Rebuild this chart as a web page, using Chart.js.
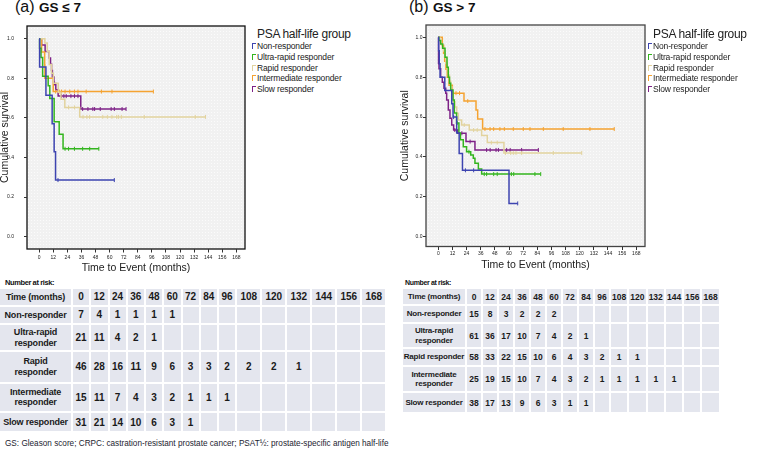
<!DOCTYPE html>
<html>
<head>
<meta charset="utf-8">
<script src="https://cdn.jsdelivr.net/npm/chart.js@4.4.1/dist/chart.umd.min.js"></script>
<style>
body{margin:0;background:#fff;font-family:"Liberation Sans",Arial,sans-serif;}
#wrap{position:relative;width:777px;height:450px;overflow:hidden;}
.cv{position:absolute;top:0;}
.ptitle{position:absolute;top:-1px;white-space:nowrap;color:#111;line-height:16px;}
.ptitle .p{font-size:16px;}
.ptitle .g{font-size:13.5px;font-weight:bold;}
.leg{position:absolute;top:27px;white-space:nowrap;color:#222;}
.leg .t{font-size:12px;letter-spacing:-0.3px;line-height:14px;padding-left:6px;}
.leg .e{font-size:8.5px;letter-spacing:-0.15px;height:10.8px;line-height:10.8px;position:relative;padding-left:6px;}
.leg .m{position:absolute;left:1px;top:2px;width:3px;height:5px;border-top:1px solid;border-left:1px solid;}
.nar{position:absolute;font-weight:bold;color:#111;white-space:nowrap;}
table.risk{position:absolute;border-collapse:separate;table-layout:fixed;}
table.risk td{background:#e4e6ee;text-align:center;font-weight:bold;color:#1a1a1a;padding:0;overflow:hidden;white-space:nowrap;}
#foot{position:absolute;left:5px;top:439px;font-size:8.2px;line-height:9px;color:#1c1c30;white-space:nowrap;}
</style>
</head>
<body>
<div id="wrap">
  <div class="ptitle" style="left:15px"><span class="p">(a)</span> <span class="g">GS ≤ 7</span></div>
  <div class="ptitle" style="left:409px"><span class="p">(b)</span> <span class="g">GS &gt; 7</span></div>
  <canvas id="ca" class="cv" style="left:0px" width="250" height="278"></canvas>
  <canvas id="cb" class="cv" style="left:400px" width="250" height="278"></canvas>
  <div id="legA" class="leg" style="left:251px"></div>
  <div id="legB" class="leg" style="left:647px"></div>
  <div class="nar" style="left:5px;top:278px;font-size:7.5px;letter-spacing:-0.4px;line-height:10px">Number at risk:</div>
  <div class="nar" style="left:405px;top:278px;font-size:7px;letter-spacing:-0.35px;line-height:10px">Number at risk:</div>
  <div id="foot">GS: Gleason score; CRPC: castration-resistant prostate cancer; PSAT½: prostate-specific antigen half-life</div>
</div>
<script>
const months = [0, 12, 24, 36, 48, 60, 72, 84, 96, 108, 120, 132, 144, 156, 168];
const yTicks = [0, 0.2, 0.4, 0.6, 0.8, 1.0];
const groups = ['Non-responder', 'Ultra-rapid responder', 'Rapid responder', 'Intermediate responder', 'Slow responder'];

// (a) GS <= 7 : event times, survival after each step, censor times
const aNonT = [0, 0.3, 5.7, 11, 12.7, 13.9, 64];
const aNonS = [1, 0.857, 0.714, 0.571, 0.429, 0.286, 0.286];
const aNonC = [16, 64];
const aUltT = [0, 0.3, 1.5, 2.9, 7.6, 9, 12.7, 17, 20.3, 50.8];
const aUltS = [1, 0.952, 0.905, 0.81, 0.762, 0.698, 0.58, 0.517, 0.444, 0.444];
const aUltC = [22, 25, 30, 37, 43, 50.8];
const aRapT = [0, 4.8, 6.8, 8.5, 10.5, 12, 16.2, 18.5, 21.8, 34.5, 141.7];
const aRapS = [1, 0.978, 0.935, 0.87, 0.826, 0.775, 0.73, 0.694, 0.653, 0.605, 0.605];
const aRapC = [25, 30, 37.3, 40.6, 42.9, 54.2, 58, 62, 66, 67.5, 70, 89.5, 133, 141.7];
const aIntT = [0, 2, 4.6, 4.8, 11.9, 97.3];
const aIntS = [1, 0.933, 0.867, 0.8, 0.733, 0.733];
const aIntC = [14, 17, 19, 22, 26, 30, 33, 40, 53, 62, 97.3];
const aSloT = [0, 2, 5, 8.5, 9.6, 10.5, 11.2, 12.5, 14.1, 16.1, 35.4, 74];
const aSloS = [1, 0.968, 0.935, 0.903, 0.871, 0.839, 0.806, 0.774, 0.742, 0.71, 0.645, 0.645];
const aSloC = [13, 19, 21, 23, 27, 30, 33, 37, 41.5, 45.7, 47.2, 52, 61.3, 64, 70.6, 74];

// (b) GS > 7
const bNonT = [0, 0.3, 0.8, 1.5, 5.5, 11.4, 12.5, 15.6, 17.7, 20.5, 60, 67.4];
const bNonS = [1, 0.933, 0.867, 0.8, 0.733, 0.667, 0.6, 0.52, 0.417, 0.333, 0.167, 0.167];
const bNonC = [13, 23, 30, 67.4];
const bUltT = [0, 0.5, 2, 3.7, 5.7, 7.4, 8.5, 9.5, 10.5, 12.5, 13.6, 15.5, 17.5, 18.8, 21.2, 24, 27.5, 29.7, 31.1, 34, 36.8, 86.9];
const bUltS = [1, 0.984, 0.967, 0.945, 0.9, 0.85, 0.8, 0.77, 0.736, 0.686, 0.62, 0.57, 0.52, 0.486, 0.451, 0.426, 0.41, 0.393, 0.368, 0.339, 0.314, 0.314];
const bUltC = [16, 26, 39, 41, 47, 50, 62, 64, 82, 86.9];
const bRapT = [0, 1.4, 2.5, 3.5, 4.5, 5.5, 6.5, 7.6, 8.5, 9.5, 10.5, 11.5, 12.7, 14, 15.6, 17, 19.8, 26.3, 36.8, 41.6, 55.7, 121.7];
const bRapS = [1, 0.983, 0.966, 0.948, 0.931, 0.9, 0.87, 0.84, 0.81, 0.78, 0.752, 0.715, 0.677, 0.65, 0.619, 0.585, 0.56, 0.535, 0.507, 0.472, 0.42, 0.42];
const bRapC = [22, 30, 33, 45, 50, 57, 61.4, 63.6, 65.9, 70.7, 97.6, 121.7];
const bIntT = [0, 3.4, 4.5, 5.4, 6.5, 7.6, 9.1, 11.9, 21.8, 32, 33.4, 37.6, 149.3];
const bIntS = [1, 0.96, 0.92, 0.88, 0.84, 0.8, 0.76, 0.72, 0.68, 0.635, 0.59, 0.54, 0.54];
const bIntC = [15, 18, 25, 39.6, 43.9, 47, 52.3, 56, 63.6, 72.1, 77.8, 89.1, 106, 128.7, 149.3];
const bSloT = [0, 0.2, 0.6, 2, 3.4, 4.8, 6.3, 7.1, 8.5, 9.9, 11.4, 13, 16.5, 23.5, 31.1, 84.9];
const bSloS = [1, 0.868, 0.842, 0.8, 0.774, 0.744, 0.719, 0.686, 0.635, 0.594, 0.56, 0.535, 0.519, 0.477, 0.435, 0.435];
const bSloC = [14, 20, 27, 41, 44, 49, 51, 58, 61, 70.7, 84.9];

// number at risk
const riskA = [
  [7, 4, 1, 1, 1, 1],
  [21, 11, 4, 2, 1],
  [46, 28, 16, 11, 9, 6, 3, 3, 2, 2, 2, 1],
  [15, 11, 7, 4, 3, 2, 1, 1, 1],
  [31, 21, 14, 10, 6, 3, 1]
];
const riskB = [
  [15, 8, 3, 2, 2, 2],
  [61, 36, 17, 10, 7, 4, 2, 1],
  [58, 33, 22, 15, 10, 6, 4, 3, 2, 1, 1],
  [25, 19, 15, 10, 7, 4, 3, 2, 1, 1, 1, 1, 1],
  [38, 17, 13, 9, 6, 3, 1, 1]
];

const colors = ['#3d44b0', '#33b51e', '#e2d39e', '#f5a331', '#7d2187'];

Chart.defaults.font.family = '"Liberation Sans", Arial, sans-serif';

function stepAt(T, S, t) {
  let y = S[0];
  for (let i = 0; i < T.length; i++) if (T[i] <= t) y = S[i];
  return y;
}

function buildDatasets(curves) {
  const ds = [];
  curves.forEach((c, i) => {
    ds.push({
      data: c[0].map((t, k) => ({x: t, y: c[1][k]})),
      stepped: 'before',
      borderColor: colors[i],
      borderWidth: 1.5,
      pointRadius: 0,
      fill: false
    });
    ds.push({
      data: c[2].map(t => ({x: t, y: stepAt(c[0], c[1], t)})),
      showLine: false,
      pointStyle: 'line',
      rotation: 90,
      pointRadius: 2,
      pointBorderWidth: 1,
      borderColor: colors[i],
      pointBorderColor: colors[i]
    });
  });
  return ds;
}

function dotPattern(ctx) {
  const p = document.createElement('canvas');
  p.width = 3; p.height = 3;
  const g = p.getContext('2d');
  g.fillStyle = '#f1f1f1';
  g.fillRect(0, 0, 3, 3);
  g.fillStyle = '#fbfbfb';
  g.fillRect(1, 1, 1, 1);
  return ctx.createPattern(p, 'repeat');
}

function makeChart(id, curves, o) {
  const ctx = document.getElementById(id).getContext('2d');
  const framePlugin = {
    id: 'frame',
    beforeDraw(chart) {
      const a = chart.chartArea, c = chart.ctx;
      c.save();
      c.fillStyle = dotPattern(c);
      c.fillRect(a.left, a.top, a.right - a.left, a.bottom - a.top);
      c.strokeStyle = o.frame;
      c.lineWidth = 1.3;
      c.strokeRect(a.left, a.top, a.right - a.left, a.bottom - a.top);
      c.restore();
    }
  };
  return new Chart(ctx, {
    type: 'line',
    data: {datasets: buildDatasets(curves)},
    plugins: [framePlugin],
    options: {
      responsive: false,
      animation: false,
      layout: {padding: {top: o.top, right: o.right, left: 0, bottom: 0}},
      plugins: {legend: {display: false}, tooltip: {enabled: false}},
      scales: {
        x: {
          type: 'linear', min: -10.44, max: 175.4,
          afterBuildTicks: s => { s.ticks = months.map(v => ({value: v})); },
          afterFit: s => { s.height = o.xh; },
          ticks: {font: {size: 5}, color: '#222', padding: o.xlp, maxRotation: 0, autoSkip: false},
          grid: {drawOnChartArea: false, tickLength: 3.5, color: '#333'},
          border: {display: false},
          title: {display: true, text: 'Time to Event (months)', font: {size: 10.5}, color: '#222', padding: {top: 0, bottom: o.xtp}}
        },
        y: {
          min: o.ymin, max: o.ymax,
          afterBuildTicks: s => { s.ticks = yTicks.map(v => ({value: v})); },
          afterFit: s => { s.width = o.yw; },
          ticks: {font: {size: 5}, color: '#222', padding: o.ylp, callback: v => v.toFixed(1)},
          grid: {drawOnChartArea: false, tickLength: 3, color: '#333'},
          border: {display: false},
          title: {display: true, text: 'Cumulative survival', font: {size: 10.5, lineHeight: 1}, color: '#222', padding: 0}
        }
      }
    }
  });
}

makeChart('ca', [
  [aNonT, aNonS, aNonC], [aUltT, aUltS, aUltC], [aRapT, aRapS, aRapC],
  [aIntT, aIntS, aIntC], [aSloT, aSloS, aSloC]
], {top: 26, right: 4, yw: 27, xh: 29, xtp: 3.7, xlp: 2, ylp: 10, ymin: -0.0621, ymax: 1.0641, frame: '#111'});

makeChart('cb', [
  [bNonT, bNonS, bNonC], [bUltT, bUltS, bUltC], [bRapT, bRapS, bRapC],
  [bIntT, bIntS, bIntC], [bSloT, bSloS, bSloC]
], {top: 25, right: 5, yw: 26, xh: 31.5, xtp: 6.2, xlp: 1, ylp: 0.5, ymin: -0.0491, ymax: 1.0617, frame: '#444'});

function buildLegend(id) {
  const el = document.getElementById(id);
  let h = '<div class="t">PSA half-life group</div>';
  groups.forEach((g, i) => {
    h += '<div class="e"><span class="m" style="border-color:' + colors[i] + '"></span>' + g + '</div>';
  });
  el.innerHTML = h;
}
buildLegend('legA');
buildLegend('legB');

function buildTable(o, risk) {
  const t = document.createElement('table');
  t.className = 'risk';
  t.style.left = o.left + 'px';
  t.style.top = o.top + 'px';
  t.style.borderSpacing = '2px';
  const widths = [o.w0].concat(months.map(m => m >= 100 ? o.w3 : o.w2));
  t.style.width = (widths.reduce((a, b) => a + b, 0) + 2 * (widths.length + 1)) + 'px';
  const cg = document.createElement('colgroup');
  widths.forEach(w => { const c = document.createElement('col'); c.style.width = w + 'px'; cg.appendChild(c); });
  t.appendChild(cg);
  const rows = [['Time (months)'].concat(months)];
  groups.forEach((g, i) => {
    const lab = o.breaks[i] ? g.replace(' ', '<br>') : g;
    rows.push([lab].concat(months.map((m, k) => risk[i][k] !== undefined ? risk[i][k] : '')));
  });
  rows.forEach((r, ri) => {
    const tr = document.createElement('tr');
    tr.style.height = o.rowH[ri] + 'px';
    r.forEach((v, ci) => {
      const td = document.createElement('td');
      td.innerHTML = v;
      td.style.height = o.rowH[ri] + 'px';
      if (ci === 0) {
        td.style.fontSize = o.labFs + 'px';
        td.style.letterSpacing = o.labLs + 'px';
        td.style.lineHeight = o.labLh + 'px';
      } else {
        td.style.fontSize = o.numFs + 'px';
      }
      tr.appendChild(td);
    });
    t.appendChild(tr);
  });
  document.getElementById('wrap').appendChild(t);
}

buildTable({left: -2, top: 287, w0: 71, w2: 16.25, w3: 23, rowH: [15.5, 16.5, 25, 29.5, 27.5, 18],
  breaks: [false, true, true, true, false], labFs: 9, labLs: -0.2, labLh: 10.5, numFs: 10}, riskA);
buildTable({left: 401, top: 287, w0: 62, w2: 14, w3: 16.3, rowH: [15, 16, 23, 16, 24, 19],
  breaks: [false, true, false, true, false], labFs: 8, labLs: -0.2, labLh: 9.5, numFs: 8.5}, riskB);
</script>
</body>
</html>
